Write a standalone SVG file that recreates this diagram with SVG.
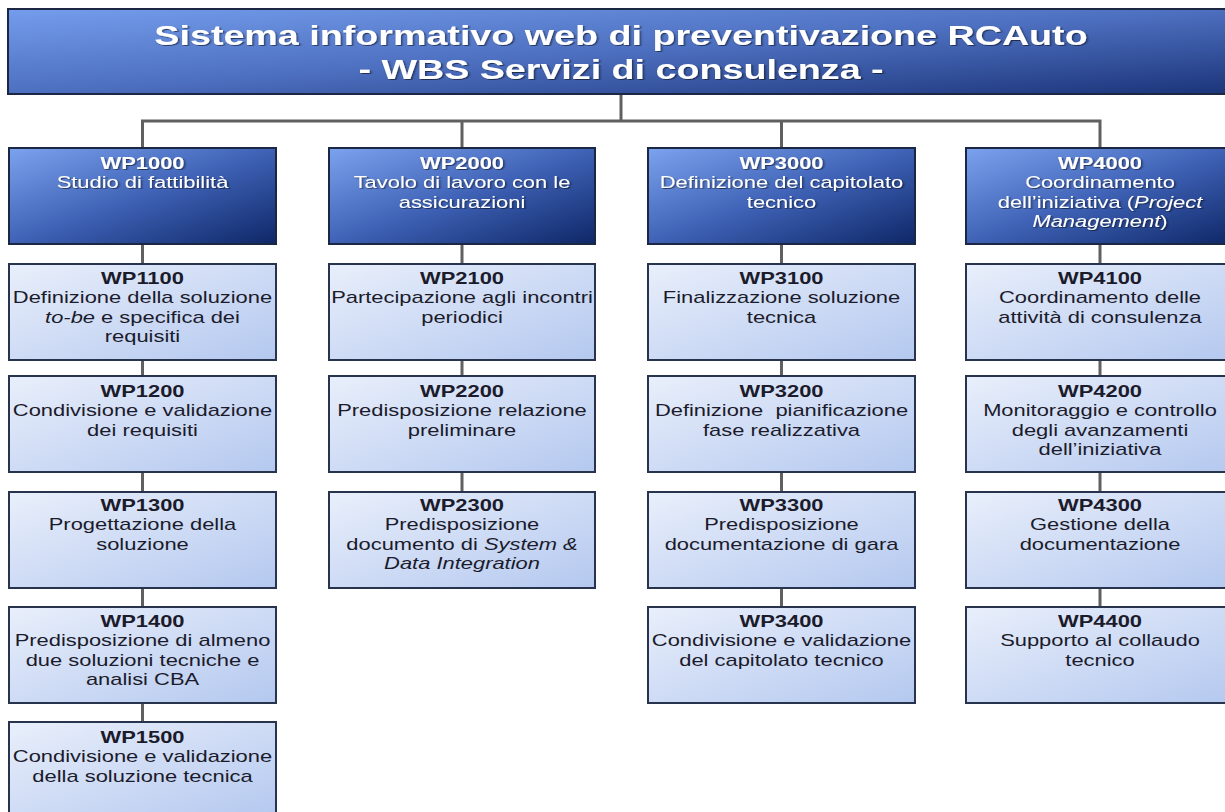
<svg xmlns="http://www.w3.org/2000/svg" width="1225" height="812" viewBox="0 0 1225 812">
<defs>
<linearGradient id="gTitle" x1="0" y1="0" x2="1" y2="1">
<stop offset="0" stop-color="#759ded"/>
<stop offset="0.5" stop-color="#4d6fbf"/>
<stop offset="1" stop-color="#1b3479"/>
</linearGradient>
<linearGradient id="gHead" x1="0" y1="0" x2="1" y2="1">
<stop offset="0" stop-color="#7ca3ee"/>
<stop offset="0.5" stop-color="#3f62b6"/>
<stop offset="1" stop-color="#0e2767"/>
</linearGradient>
<linearGradient id="gChild" x1="0" y1="0" x2="1" y2="1">
<stop offset="0" stop-color="#e9effb"/>
<stop offset="1" stop-color="#b4c8ef"/>
</linearGradient>
<filter id="sh" x="-10%" y="-10%" width="120%" height="140%">
<feDropShadow dx="1" dy="1" stdDeviation="0.6" flood-color="#000" flood-opacity="0.55"/>
</filter>
</defs>
<style>
.title{fill:url(#gTitle);stroke:#1c2744;stroke-width:2}
.head{fill:url(#gHead);stroke:#1c2744;stroke-width:2}
.child{fill:url(#gChild);stroke:#28334d;stroke-width:2}
.conn{stroke:#606060;stroke-width:3;fill:none}
text{font-family:"Liberation Sans",Arial,sans-serif;font-size:16px;text-anchor:middle}
.tt{font-size:27.5px;font-weight:bold;fill:#fff;filter:url(#sh)}
.ht{fill:#fff;filter:url(#sh)}
.ct{fill:#1b1b2b}
.b{font-weight:bold}
.i{font-style:italic}
</style>
<rect width="1225" height="812" fill="#fff"/>
<g id="connectors">
<path class="conn" d="M621 94V121M142.5 121H1100M142.5 119.5V148M462 119.5V148M781.5 119.5V148M1100 119.5V148"/>
<path class="conn" d="M142.5 244V812M462 244V492M781.5 244V607M1100 244V607"/>
</g>
<g id="title">
<rect class="title" x="8" y="9" width="1230" height="85"/>
<text class="tt" transform="translate(621,45) scale(1.37,1)"><tspan x="0" y="0">Sistema informativo web di preventivazione RCAuto</tspan><tspan x="0" y="34">- WBS Servizi di consulenza -</tspan></text>
</g>
<g id="wp1000">
<rect class="head" x="9" y="148" width="267" height="96"/>
<text class="ht" transform="translate(142.5,169) scale(1.37,1)"><tspan class="b" x="0" y="0">WP1000</tspan><tspan x="0" y="19.5">Studio di fattibilità</tspan></text>
</g>
<g id="wp2000">
<rect class="head" x="329" y="148" width="266" height="96"/>
<text class="ht" transform="translate(462,169) scale(1.37,1)"><tspan class="b" x="0" y="0">WP2000</tspan><tspan x="0" y="19.5">Tavolo di lavoro con le</tspan><tspan x="0" y="39">assicurazioni</tspan></text>
</g>
<g id="wp3000">
<rect class="head" x="648" y="148" width="267" height="96"/>
<text class="ht" transform="translate(781.5,169) scale(1.37,1)"><tspan class="b" x="0" y="0">WP3000</tspan><tspan x="0" y="19.5">Definizione del capitolato</tspan><tspan x="0" y="39">tecnico</tspan></text>
</g>
<g id="wp4000">
<rect class="head" x="966" y="148" width="267" height="96"/>
<text class="ht" transform="translate(1100,169) scale(1.37,1)"><tspan class="b" x="0" y="0">WP4000</tspan><tspan x="0" y="19.5">Coordinamento</tspan><tspan x="0" y="39">dell’iniziativa (<tspan class="i">Project</tspan></tspan><tspan x="0" y="58.5"><tspan class="i">Management</tspan>)</tspan></text>
</g>
<g id="wp1100">
<rect class="child" x="9" y="264" width="267" height="96"/>
<text class="ct" transform="translate(142.5,284) scale(1.37,1)"><tspan class="b" x="0" y="0">WP1100</tspan><tspan x="0" y="19.5">Definizione della soluzione</tspan><tspan x="0" y="39"><tspan class="i">to-be</tspan> e specifica dei</tspan><tspan x="0" y="58.5">requisiti</tspan></text>
</g>
<g id="wp1200">
<rect class="child" x="9" y="376" width="267" height="96"/>
<text class="ct" transform="translate(142.5,397) scale(1.37,1)"><tspan class="b" x="0" y="0">WP1200</tspan><tspan x="0" y="19.5">Condivisione e validazione</tspan><tspan x="0" y="39">dei requisiti</tspan></text>
</g>
<g id="wp1300">
<rect class="child" x="9" y="492" width="267" height="96"/>
<text class="ct" transform="translate(142.5,511) scale(1.37,1)"><tspan class="b" x="0" y="0">WP1300</tspan><tspan x="0" y="19.5">Progettazione della</tspan><tspan x="0" y="39">soluzione</tspan></text>
</g>
<g id="wp1400">
<rect class="child" x="9" y="607" width="267" height="96"/>
<text class="ct" transform="translate(142.5,627) scale(1.37,1)"><tspan class="b" x="0" y="0">WP1400</tspan><tspan x="0" y="19.5">Predisposizione di almeno</tspan><tspan x="0" y="39">due soluzioni tecniche e</tspan><tspan x="0" y="58.5">analisi CBA</tspan></text>
</g>
<g id="wp1500">
<rect class="child" x="9" y="722" width="267" height="96"/>
<text class="ct" transform="translate(142.5,743) scale(1.37,1)"><tspan class="b" x="0" y="0">WP1500</tspan><tspan x="0" y="19.5">Condivisione e validazione</tspan><tspan x="0" y="39">della soluzione tecnica</tspan></text>
</g>
<g id="wp2100">
<rect class="child" x="329" y="264" width="266" height="96"/>
<text class="ct" transform="translate(462,284) scale(1.37,1)"><tspan class="b" x="0" y="0">WP2100</tspan><tspan x="0" y="19.5">Partecipazione agli incontri</tspan><tspan x="0" y="39">periodici</tspan></text>
</g>
<g id="wp2200">
<rect class="child" x="329" y="376" width="266" height="96"/>
<text class="ct" transform="translate(462,397) scale(1.37,1)"><tspan class="b" x="0" y="0">WP2200</tspan><tspan x="0" y="19.5">Predisposizione relazione</tspan><tspan x="0" y="39">preliminare</tspan></text>
</g>
<g id="wp2300">
<rect class="child" x="329" y="492" width="266" height="96"/>
<text class="ct" transform="translate(462,511) scale(1.37,1)"><tspan class="b" x="0" y="0">WP2300</tspan><tspan x="0" y="19.5">Predisposizione</tspan><tspan x="0" y="39">documento di <tspan class="i">System &amp;</tspan></tspan><tspan class="i" x="0" y="58.5">Data Integration</tspan></text>
</g>
<g id="wp3100">
<rect class="child" x="648" y="264" width="267" height="96"/>
<text class="ct" transform="translate(781.5,284) scale(1.37,1)"><tspan class="b" x="0" y="0">WP3100</tspan><tspan x="0" y="19.5">Finalizzazione soluzione</tspan><tspan x="0" y="39">tecnica</tspan></text>
</g>
<g id="wp3200">
<rect class="child" x="648" y="376" width="267" height="96"/>
<text class="ct" transform="translate(781.5,397) scale(1.37,1)"><tspan class="b" x="0" y="0">WP3200</tspan><tspan x="0" y="19.5">Definizione&#160; pianificazione</tspan><tspan x="0" y="39">fase realizzativa</tspan></text>
</g>
<g id="wp3300">
<rect class="child" x="648" y="492" width="267" height="96"/>
<text class="ct" transform="translate(781.5,511) scale(1.37,1)"><tspan class="b" x="0" y="0">WP3300</tspan><tspan x="0" y="19.5">Predisposizione</tspan><tspan x="0" y="39">documentazione di gara</tspan></text>
</g>
<g id="wp3400">
<rect class="child" x="648" y="607" width="267" height="96"/>
<text class="ct" transform="translate(781.5,627) scale(1.37,1)"><tspan class="b" x="0" y="0">WP3400</tspan><tspan x="0" y="19.5">Condivisione e validazione</tspan><tspan x="0" y="39">del capitolato tecnico</tspan></text>
</g>
<g id="wp4100">
<rect class="child" x="966" y="264" width="267" height="96"/>
<text class="ct" transform="translate(1100,284) scale(1.37,1)"><tspan class="b" x="0" y="0">WP4100</tspan><tspan x="0" y="19.5">Coordinamento delle</tspan><tspan x="0" y="39">attività di consulenza</tspan></text>
</g>
<g id="wp4200">
<rect class="child" x="966" y="376" width="267" height="96"/>
<text class="ct" transform="translate(1100,397) scale(1.37,1)"><tspan class="b" x="0" y="0">WP4200</tspan><tspan x="0" y="19.5">Monitoraggio e controllo</tspan><tspan x="0" y="39">degli avanzamenti</tspan><tspan x="0" y="58.5">dell’iniziativa</tspan></text>
</g>
<g id="wp4300">
<rect class="child" x="966" y="492" width="267" height="96"/>
<text class="ct" transform="translate(1100,511) scale(1.37,1)"><tspan class="b" x="0" y="0">WP4300</tspan><tspan x="0" y="19.5">Gestione della</tspan><tspan x="0" y="39">documentazione</tspan></text>
</g>
<g id="wp4400">
<rect class="child" x="966" y="607" width="267" height="96"/>
<text class="ct" transform="translate(1100,627) scale(1.37,1)"><tspan class="b" x="0" y="0">WP4400</tspan><tspan x="0" y="19.5">Supporto al collaudo</tspan><tspan x="0" y="39">tecnico</tspan></text>
</g>
</svg>
